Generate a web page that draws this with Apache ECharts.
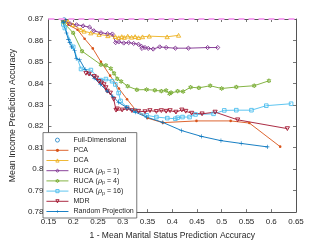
<!DOCTYPE html>
<html><head><meta charset="utf-8">
<script src="https://cdn.jsdelivr.net/npm/echarts@6/dist/echarts.min.js"></script>
<style>html,body{margin:0;padding:0;background:#fff}#c{width:327px;height:245px}</style>
</head><body><div id="c"></div>
<script>
const xTicks = [0.15,0.2,0.25,0.3,0.35,0.4,0.45,0.5,0.55,0.6,0.65];
const yTicks = [0.78,0.79,0.8,0.81,0.82,0.83,0.84,0.85,0.86,0.87];
const fullDimAcc = 0.8694;
const fullDim = [[0.1816,0.8695]];
const pca = [[0.18,0.8693],[0.19,0.8673],[0.2087,0.865],[0.223,0.8608],[0.2395,0.8563],[0.256,0.85],[0.2745,0.8436],[0.2923,0.8376],[0.3087,0.8326],[0.3253,0.8278],[0.35,0.8238],[0.381,0.8217],[0.449,0.8225],[0.518,0.8225],[0.5558,0.8215],[0.618,0.8105]];
const dca = [[0.18,0.8693],[0.1895,0.8688],[0.1994,0.8673],[0.2158,0.865],[0.222,0.8643],[0.2356,0.8635],[0.2522,0.8628],[0.27,0.8622],[0.285,0.8618],[0.292,0.8613],[0.298,0.8618],[0.303,0.8614],[0.31,0.862],[0.318,0.8615],[0.325,0.8618],[0.332,0.8613],[0.34,0.8617],[0.3536,0.862],[0.3897,0.8617],[0.4128,0.8624]];
const ruca1 = [[0.18,0.8693],[0.1935,0.8678],[0.2067,0.8673],[0.2198,0.8668],[0.233,0.8662],[0.2415,0.8645],[0.256,0.8636],[0.2692,0.8631],[0.279,0.863],[0.2857,0.859],[0.2923,0.8594],[0.302,0.8588],[0.312,0.859],[0.322,0.8586],[0.3318,0.8582],[0.3383,0.8572],[0.339,0.8563],[0.345,0.8567],[0.3516,0.8563],[0.3615,0.856],[0.3747,0.857],[0.3877,0.8567],[0.4063,0.8564],[0.4326,0.8564],[0.4715,0.8567],[0.4919,0.8567]];
const ruca4 = [[0.18,0.8685],[0.2,0.8635],[0.2178,0.855],[0.256,0.8487],[0.266,0.8484],[0.2759,0.8469],[0.2824,0.8447],[0.289,0.8421],[0.2968,0.8409],[0.31,0.8387],[0.3285,0.837],[0.3482,0.8371],[0.3648,0.8368],[0.378,0.8364],[0.3877,0.8367],[0.3945,0.8352],[0.3976,0.8357],[0.4109,0.8364],[0.422,0.8362],[0.437,0.8382],[0.4538,0.8379],[0.4767,0.8389],[0.4998,0.8376],[0.5294,0.8383],[0.5656,0.8389],[0.5953,0.8412]];
const ruca16 = [[0.18,0.8675],[0.183,0.8658],[0.2,0.857],[0.2158,0.8467],[0.2356,0.8462],[0.2554,0.8415],[0.266,0.842],[0.2785,0.841],[0.285,0.8395],[0.2917,0.8355],[0.2956,0.8318],[0.3087,0.8288],[0.3253,0.8273],[0.3482,0.8251],[0.368,0.8243],[0.39,0.8238],[0.4063,0.8235],[0.4109,0.824],[0.4207,0.8243],[0.435,0.8243],[0.447,0.8255],[0.4834,0.8258],[0.5051,0.8274],[0.5294,0.8275],[0.56,0.8275],[0.59,0.8296],[0.6401,0.8305]];
const mdr = [[0.2257,0.8447],[0.232,0.8443],[0.2423,0.8432],[0.247,0.8425],[0.2522,0.8409],[0.257,0.8402],[0.2621,0.8394],[0.266,0.838],[0.2686,0.8364],[0.275,0.8355],[0.2818,0.8326],[0.2865,0.8275],[0.289,0.8281],[0.2988,0.8276],[0.3087,0.8281],[0.3186,0.8273],[0.3318,0.827],[0.345,0.8268],[0.355,0.8273],[0.368,0.8269],[0.378,0.8273],[0.3877,0.827],[0.3957,0.8273],[0.4075,0.8266],[0.4194,0.8276],[0.4273,0.827],[0.4392,0.8261],[0.4603,0.8258],[0.4866,0.8266],[0.5321,0.823],[0.6326,0.8189]];
const rp = [[0.18,0.8685],[0.1862,0.8635],[0.19,0.8605],[0.1929,0.859],[0.197,0.857],[0.2027,0.8552],[0.206,0.8515],[0.213,0.851],[0.224,0.8465],[0.2423,0.8424],[0.255,0.8395],[0.2686,0.8364],[0.28,0.834],[0.2917,0.8311],[0.308,0.8288],[0.3253,0.8266],[0.348,0.8243],[0.381,0.8218],[0.4188,0.818],[0.4589,0.8153],[0.4984,0.8133],[0.5393,0.812],[0.592,0.8104]];

const FONT = 'Liberation Sans, Arial, sans-serif';
const TXT = '#262626';
const AX = '#555555';
const symTri = 'path://M5,0 L10,9 L0,9 Z';
const symTriDown = 'path://M0,0 L10,0 L5,9 Z';
const symDiamond = 'path://M5,0 L10,5 L5,10 L0,5 Z';
const symSquare = 'path://M0,0 L10,0 L10,10 L0,10 Z';
const symPlus = 'path://M4.3,0 L5.7,0 L5.7,4.3 L10,4.3 L10,5.7 L5.7,5.7 L5.7,10 L4.3,10 L4.3,5.7 L0,5.7 L0,4.3 L4.3,4.3 Z';
const symStar = 'path://M5,0 L6.2,3 L9.3,2.5 L7.4,5 L9.3,7.5 L6.2,7 L5,10 L3.8,7 L0.7,7.5 L2.6,5 L0.7,2.5 L3.8,3 Z';

const styles = {
  'PCA': { color: '#D95319', symbol: 'circle', size: 2.6, hollow: false },
  'DCA': { color: '#EDB120', symbol: symTri, size: 4.2, hollow: true },
  'RUCA1': { color: '#7E2F8E', symbol: symDiamond, size: 4.2, hollow: true },
  'RUCA4': { color: '#77AC30', symbol: symStar, size: 4.2, hollow: true },
  'RUCA16': { color: '#4DBEEE', symbol: symSquare, size: 3.6, hollow: true },
  'MDR': { color: '#A2142F', symbol: symTriDown, size: 4.2, hollow: true },
  'Random Projection': { color: '#0072BD', symbol: symPlus, size: 4.2, hollow: false }
};
function itemStyleOf(st) {
  return st.hollow ? { color: 'rgba(255,255,255,0)', borderColor: st.color, borderWidth: 0.9 }
                   : { color: st.color, borderWidth: 0 };
}
function lineSeries(name, data) {
  const st = styles[name];
  return {
    name, type: 'line', data, symbol: st.symbol, symbolSize: st.size, symbolKeepAspect: true,
    showSymbol: true, animation: false,
    lineStyle: { color: st.color, width: 0.9 },
    itemStyle: itemStyleOf(st),
    emphasis: { disabled: true }, z: 3
  };
}
const rich = {
  n: { fontFamily: FONT, fontSize: 7.1, color: TXT, lineHeight: 9 },
  g: { fontFamily: 'DejaVu Serif, serif', fontStyle: 'italic', fontSize: 7.1, color: TXT, lineHeight: 9 },
  s: { fontFamily: FONT, fontSize: 5.3, color: TXT, lineHeight: 9, padding: [4, 0, 0, 0] }
};
const labelMap = {
  'RUCA1': '{n|RUCA (}{g|ρ}{s|p}{n| = 1)}',
  'RUCA4': '{n|RUCA (}{g|ρ}{s|p}{n| = 4)}',
  'RUCA16': '{n|RUCA (}{g|ρ}{s|p}{n| = 16)}'
};
const legendNames = ['Full-Dimensional','PCA','DCA','RUCA1','RUCA4','RUCA16','MDR','Random Projection'];
const legendData = legendNames.map(n => {
  if (n === 'Full-Dimensional') return { name: n, icon: 'circle', itemStyle: { color: 'rgba(255,255,255,0)', borderColor: '#0072BD', borderWidth: 0.9 } };
  const st = styles[n];
  return { name: n, itemStyle: itemStyleOf(st), lineStyle: { color: st.color, width: 0.9 } };
});
const chart = echarts.init(document.getElementById('c'), null, { renderer: 'canvas' });
const axisCommon = {
  type: 'value', axisLine: { show: true, lineStyle: { color: AX, width: 1 } },
  axisTick: { show: true, inside: true, length: 3, lineStyle: { color: AX, width: 0.8 } },
  splitLine: { show: false }
};
chart.setOption({
  animation: false,
  backgroundColor: '#ffffff',
  grid: { left: 43, right: 31, top: 19, bottom: 27, containLabel: false },
  xAxis: [
    Object.assign({}, axisCommon, { min: 0.15, max: 0.65, interval: 0.05, position: 'bottom',
      axisLabel: { color: TXT, fontFamily: FONT, fontSize: 8, margin: 6, formatter: v => String(+v.toFixed(2)) },
      name: '1 - Mean Marital Status Prediction Accuracy', nameLocation: 'middle', nameGap: 18,
      nameTextStyle: { color: TXT, fontFamily: FONT, fontSize: 8.5 } }),
    Object.assign({}, axisCommon, { min: 0.15, max: 0.65, interval: 0.05, position: 'top', axisLabel: { show: false } })
  ],
  yAxis: [
    Object.assign({}, axisCommon, { min: 0.78, max: 0.87, interval: 0.01, position: 'left',
      axisLabel: { color: TXT, fontFamily: FONT, fontSize: 8, margin: 5, formatter: v => String(+v.toFixed(2)) },
      name: 'Mean Income Prediction Accuracy', nameLocation: 'middle', nameGap: 22,
      nameTextStyle: { color: TXT, fontFamily: FONT, fontSize: 8.8 } }),
    Object.assign({}, axisCommon, { min: 0.78, max: 0.87, interval: 0.01, position: 'right', axisLabel: { show: false } })
  ],
  legend: {
    orient: 'vertical', left: 43, bottom: 27, itemWidth: 22, itemHeight: 4, itemGap: 1.2,
    padding: [3, 3, 2, 3], backgroundColor: '#ffffff', borderColor: AX, borderWidth: 0.8,
    textStyle: { color: TXT, fontFamily: FONT, fontSize: 7.1, lineHeight: 9, rich },
    formatter: n => labelMap[n] || n,
    data: legendData,
    selectedMode: false
  },
  series: [
    { name: 'Full-Dimensional', type: 'scatter', data: fullDim, symbol: 'circle', symbolSize: 4.5,
      itemStyle: { color: 'rgba(255,255,255,0)', borderColor: '#0072BD', borderWidth: 1 }, z: 6,
      markLine: { silent: true, symbol: 'none', label: { show: false }, z: 8,
        lineStyle: { color: '#F5A3F2', type: [6, 4], width: 2 },
        data: [{ yAxis: fullDimAcc }] } },
    lineSeries('PCA', pca),
    lineSeries('DCA', dca),
    lineSeries('RUCA1', ruca1),
    lineSeries('RUCA4', ruca4),
    lineSeries('RUCA16', ruca16),
    lineSeries('MDR', mdr),
    lineSeries('Random Projection', rp)
  ]
});
</script></body></html>
